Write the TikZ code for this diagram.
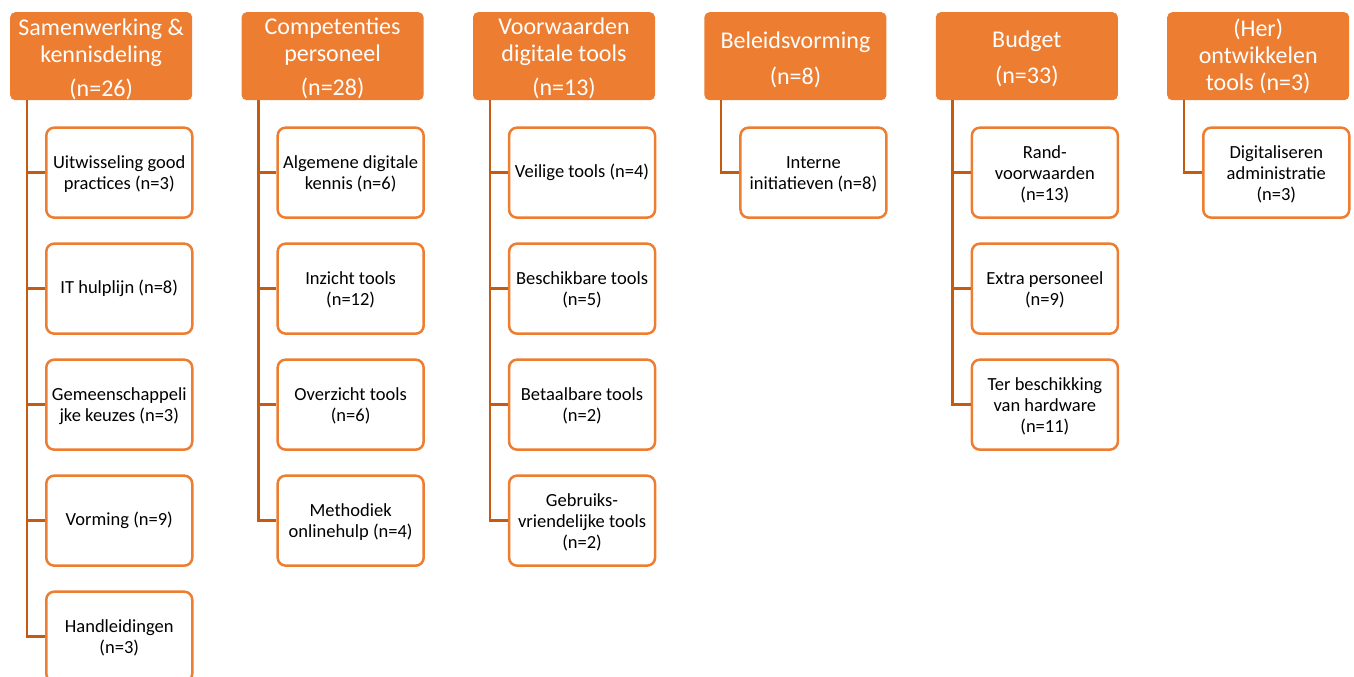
\documentclass[tikz,border=0pt]{standalone}
\usepackage{fontspec}
\setmainfont{Carlito}
\usepackage{tikz}
\usepackage{xcolor}
\usetikzlibrary{positioning, calc}
\definecolor{accent}{RGB}{237,125,49}
\definecolor{linkcol}{RGB}{197,90,17}

\begin{document}
\begin{tikzpicture}[
  head/.style={
    rectangle, rounded corners=5pt, fill=accent, text=white,
    minimum width=182pt, minimum height=88pt, inner sep=1pt, align=center,
    font=\fontsize{24}{27}\selectfont
  },
  sub/.style={
    rectangle, rounded corners=8pt, draw=accent, line width=2.5pt, fill=white,
    minimum width=146pt, minimum height=90pt, inner sep=1pt, align=center,
    font=\fontsize{18.5}{21}\selectfont
  },
  twoline/.style={text height=61pt, text depth=27pt},
  threeline/.style={text height=71.5pt, text depth=16.5pt},
  link/.style={draw=linkcol, line width=2.5pt}
]
\useasboundingbox (0,0) rectangle (1354pt,-677pt);

\node[head, anchor=north west, text height=83pt, text depth=3pt] (h1) at (10pt,-12pt) {Samenwerking \&\\kennisdeling\\[7pt](n=26)};
\node[head, right=49pt of h1, text height=82pt, text depth=4pt] (h2) {Competenties\\personeel\\[7pt](n=28)};
\node[head, right=49pt of h2, text height=82pt, text depth=4pt] (h3) {Voorwaarden\\digitale tools\\[7pt](n=13)};
\node[head, right=49pt of h3, text height=71pt, text depth=15pt] (h4) {Beleidsvorming\\[9pt](n=8)};
\node[head, right=49pt of h4, text height=70pt, text depth=16pt] (h5) {Budget\\[9pt](n=33)};
\node[head, right=49pt of h5, text height=77pt, text depth=9pt] (h6) {(Her)\\ontwikkelen\\tools (n=3)};

% Samenwerking
\node[sub, twoline, anchor=north west] (s11) at ([xshift=35pt, yshift=-26pt]h1.south west) {Uitwisseling good\\practices (n=3)};
\node[sub, below=23.5pt of s11] (s12) {IT hulplijn (n=8)};
\node[sub, twoline, below=23.5pt of s12] (s13) {Gemeenschappeli\\jke keuzes (n=3)};
\node[sub, below=23.5pt of s13] (s14) {Vorming (n=9)};
\node[sub, twoline, below=23.5pt of s14] (s15) {Handleidingen\\(n=3)};

% Competenties
\node[sub, twoline, anchor=north west] (s21) at ([xshift=35pt, yshift=-26pt]h2.south west) {Algemene digitale\\kennis (n=6)};
\node[sub, twoline, below=23.5pt of s21] (s22) {Inzicht tools\\(n=12)};
\node[sub, twoline, below=23.5pt of s22] (s23) {Overzicht tools\\(n=6)};
\node[sub, twoline, below=23.5pt of s23] (s24) {Methodiek\\onlinehulp (n=4)};

% Voorwaarden
\node[sub, anchor=north west] (s31) at ([xshift=35pt, yshift=-26pt]h3.south west) {Veilige tools (n=4)};
\node[sub, twoline, below=23.5pt of s31] (s32) {Beschikbare tools\\(n=5)};
\node[sub, twoline, below=23.5pt of s32] (s33) {Betaalbare tools\\(n=2)};
\node[sub, threeline, below=23.5pt of s33] (s34) {Gebruiks-\\vriendelijke tools\\(n=2)};

% Beleid
\node[sub, twoline, anchor=north west] (s41) at ([xshift=35pt, yshift=-26pt]h4.south west) {Interne\\initiatieven (n=8)};

% Budget
\node[sub, threeline, anchor=north west] (s51) at ([xshift=35pt, yshift=-26pt]h5.south west) {Rand-\\voorwaarden\\(n=13)};
\node[sub, twoline, below=23.5pt of s51] (s52) {Extra personeel\\(n=9)};
\node[sub, threeline, below=23.5pt of s52] (s53) {Ter beschikking\\van hardware\\(n=11)};

% Tools
\node[sub, threeline, anchor=north west] (s61) at ([xshift=35pt, yshift=-26pt]h6.south west) {Digitaliseren\\administratie\\(n=3)};

\foreach \s in {s11,s12,s13,s14,s15}
  \draw[link] ([xshift=17pt]h1.south west) |- (\s.west);
\foreach \s in {s21,s22,s23,s24}
  \draw[link] ([xshift=17pt]h2.south west) |- (\s.west);
\foreach \s in {s31,s32,s33,s34}
  \draw[link] ([xshift=17pt]h3.south west) |- (\s.west);
\draw[link] ([xshift=17pt]h4.south west) |- (s41.west);
\foreach \s in {s51,s52,s53}
  \draw[link] ([xshift=17pt]h5.south west) |- (\s.west);
\draw[link] ([xshift=17pt]h6.south west) |- (s61.west);

\end{tikzpicture}
\end{document}
